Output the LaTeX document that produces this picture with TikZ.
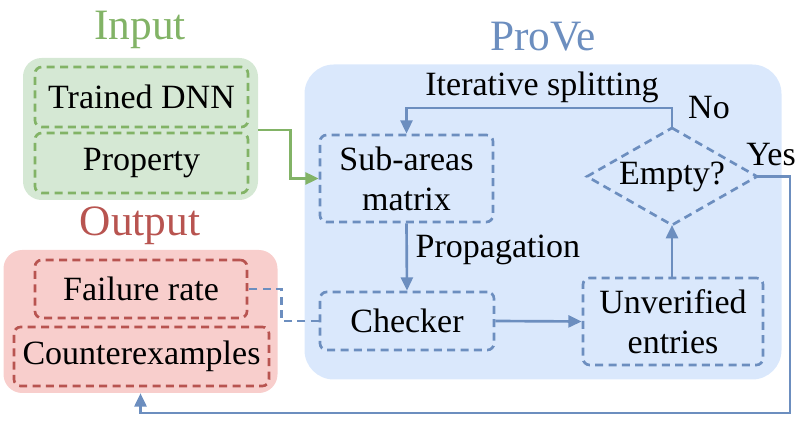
\documentclass[tikz,border=0pt]{standalone}
\usepackage{fontspec}
\setmainfont{Liberation Serif}
\usetikzlibrary{arrows.meta,calc}
\definecolor{bstroke}{HTML}{6C8EBF}
\definecolor{bfill}{HTML}{DAE8FC}
\definecolor{gstroke}{HTML}{82B366}
\definecolor{gfill}{HTML}{D5E8D4}
\definecolor{rstroke}{HTML}{B85450}
\definecolor{rfill}{HTML}{F8CECC}
\tikzset{
  txt/.style={font=\fontsize{25.5}{30}\selectfont, text=black, align=center},
  title/.style={font=\fontsize{32.5}{36}\selectfont},
  group/.style={rectangle, rounded corners=14pt, inner sep=0pt},
  dbox/.style={txt, rectangle, draw, line width=2pt, dash pattern=on 6pt off 4pt, rounded corners=5pt, inner sep=0pt},
  arr/.style={line width=2pt, -{Triangle[length=10pt,width=9pt]}},
  conn/.style={line width=2pt},
}
\begin{document}
\begin{tikzpicture}[x=0.75pt,y=-0.75pt]
\useasboundingbox (0,0) rectangle (800,423);
% groups
\node[group, fill=gfill, minimum width=176.25pt, minimum height=106.5pt] (input) at (140.5,129) {};
\node[group, fill=rfill, minimum width=205.5pt, minimum height=107.25pt] (output) at (140.5,321.5) {};
\node[group, fill=bfill, rounded corners=22pt, minimum width=357.75pt, minimum height=236.25pt] (prove) at (543,222) {};
% titles
\node[title, text=gstroke] (tin) at (140,30) {Input};
\node[title, text=rstroke] (tout) at (140,226) {Output};
\node[title, text=bstroke] (tprove) at (543,37) {ProVe};
% input boxes
\node[dbox, draw=gstroke, minimum width=159.75pt, minimum height=45pt] (dnn) at (141.5,97) {Trained DNN};
\node[dbox, draw=gstroke, minimum width=159.75pt, minimum height=45pt] (prop) at (141.5,163) {Property};
% output boxes
\node[dbox, draw=rstroke, minimum width=159pt, minimum height=43.5pt] (fail) at (141,289) {Failure rate};
\node[dbox, draw=rstroke, minimum width=191.25pt, minimum height=44.25pt] (cex) at (141.5,356.5) {Counterexamples};
% prove boxes
\node[dbox, draw=bstroke, minimum width=129.75pt, minimum height=65.25pt] (sub) at (406.5,178.5) {Sub-areas\\matrix};
\node[dbox, draw=bstroke, minimum width=130.5pt, minimum height=43.5pt] (chk) at (407,321) {Checker};
\node[dbox, draw=bstroke, minimum width=135pt, minimum height=65.25pt] (unv) at (673,321.5) {Unverified\\entries};
% diamond
\coordinate (et) at (672,128);
\coordinate (eb) at (672,225);
\coordinate (el) at (587,176.5);
\coordinate (er) at (757,176.5);
\draw[bstroke, line width=2pt, dash pattern=on 6pt off 4pt] (et) -- (er) -- (eb) -- (el) -- cycle;
\node[txt] (empty) at (672,176.5) {Empty?};
% labels
\node[txt] (lit) at (542,87) {Iterative splitting};
\node[txt] (lno) at (709,108) {No};
\node[txt] (lyes) at (771,155) {Yes};
\node[txt, anchor=west] (lprop) at (411,250) {Propagation};
% connectors
\draw[arr, gstroke] (input.east |- 0,130) -- ++(32,0) |- (sub.west);
\draw[arr, bstroke] (sub.south) -- (chk.north);
\draw[arr, bstroke] (chk.east) -- (unv.west);
\draw[arr, bstroke] (unv.north -| eb) -- (eb);
\draw[arr, bstroke] (et) -- ++(0,-20) -| (sub.north);
\draw[arr, bstroke] (er) -- ++(33,0) -- ++(0,236.5) -| (output.south);
\draw[conn, bstroke, dash pattern=on 6pt off 4pt] (chk.west) -- ++(-37,0) |- (fail.east);
\end{tikzpicture}
\end{document}
